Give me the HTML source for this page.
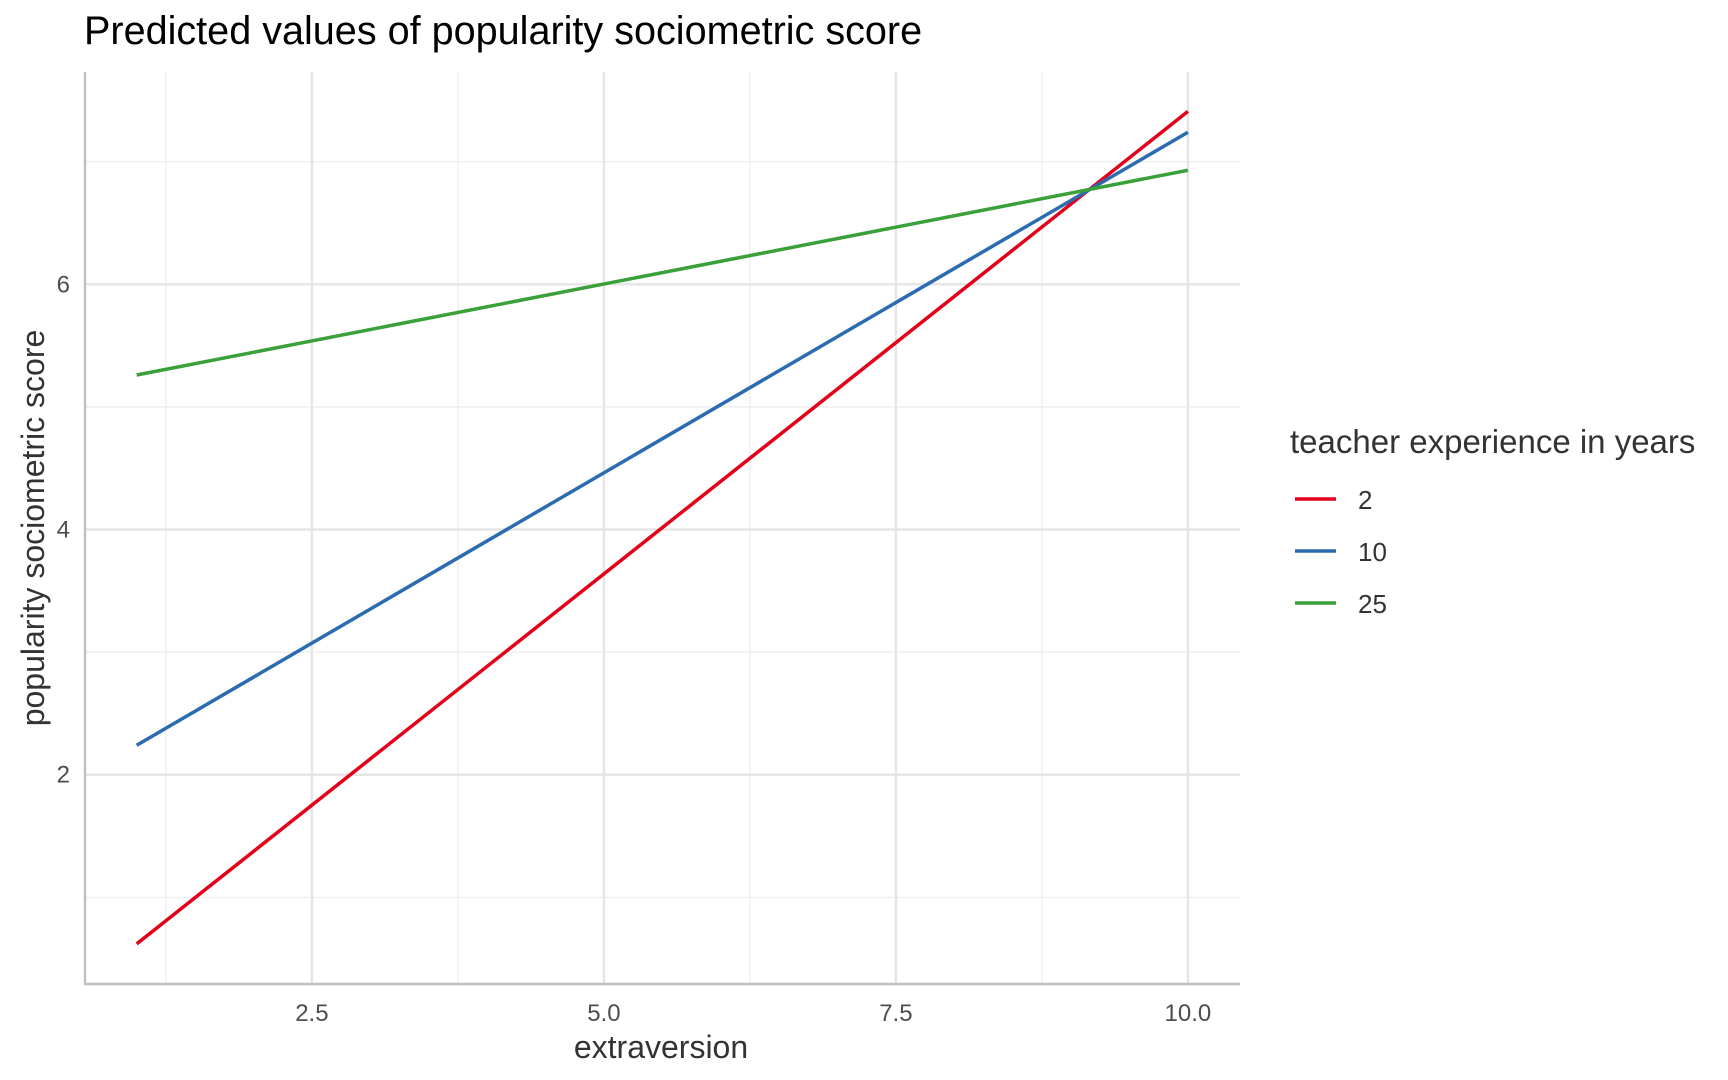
<!DOCTYPE html>
<html><head><meta charset="utf-8"><style>
html,body{margin:0;padding:0;background:#fff;}
svg{display:block;font-family:"Liberation Sans",Arial,sans-serif;}
</style></head><body>
<svg id="chart" width="1728" height="1080" viewBox="0 0 1728 1080">
<text x="84" y="44" font-size="39.6" fill="#000">Predicted values of popularity sociometric score</text>
<g id="grid"></g>
<g id="lines"></g>
<g id="axes"></g>
<text x="661" y="1058" font-size="32" fill="#333" text-anchor="middle">extraversion</text>
<text transform="translate(44,528) rotate(-90)" font-size="32" fill="#333" text-anchor="middle">popularity sociometric score</text>
<g id="legend">
<text x="1290" y="453" font-size="33" fill="#333">teacher experience in years</text>
</g>
</svg>
<script>
const seriesNames=["2","10","25"];
const seriesColors=["#e2001a","#2b6cb0","#3aa03a"];
const xValues=[1,10];
const yRed=[0.62,7.41];
const yBlue=[2.24,7.24];
const yGreen=[5.26,6.93];
const xTicks=[2.5,5.0,7.5,10.0];
const xTickLabels=["2.5","5.0","7.5","10.0"];
const xMinor=[1.25,3.75,6.25,8.75];
const yTicks=[2,4,6];
const yTickLabels=["2","4","6"];
const yMinor=[1,3,5,7];

const L=85,R=1240,T=72,B=984;
const xs=v=>311.9+(v-2.5)*116.8;
const ys=v=>284.3-(v-6)*122.6;
const NS="http://www.w3.org/2000/svg";
function mk(tag,attrs,parent){const e=document.createElementNS(NS,tag);for(const k in attrs)e.setAttribute(k,attrs[k]);parent.appendChild(e);return e;}
const grid=document.getElementById('grid'),lines=document.getElementById('lines'),axes=document.getElementById('axes'),legend=document.getElementById('legend');
xMinor.forEach(v=>{const e=mk('line',{x1:xs(v),x2:xs(v),y1:T,y2:B,stroke:'#ebebeb','stroke-width':1.2},grid);

});
yMinor.forEach(v=>{const e=mk('line',{x1:L,x2:R,y1:ys(v),y2:ys(v),stroke:'#ebebeb','stroke-width':1.2},grid);

});
xTicks.forEach((v,i)=>{const e=mk('line',{x1:xs(v),x2:xs(v),y1:T,y2:B,stroke:'#e5e5e5','stroke-width':2.4},grid);


const t=mk('text',{x:xs(v),y:1021,'font-size':24,fill:'#4d4d4d','text-anchor':'middle'},axes);t.textContent=xTickLabels[i];

});
yTicks.forEach((v,i)=>{const e=mk('line',{x1:L,x2:R,y1:ys(v),y2:ys(v),stroke:'#e5e5e5','stroke-width':2.4},grid);


const t=mk('text',{x:70,y:ys(v)+8,'font-size':24,fill:'#4d4d4d','text-anchor':'end'},axes);t.textContent=yTickLabels[i];

});
const ax1=mk('line',{x1:L,x2:L,y1:T,y2:B,stroke:'#c0c0c0','stroke-width':2.4},axes);


const ax2=mk('line',{x1:L-1,x2:R,y1:B,y2:B,stroke:'#c0c0c0','stroke-width':2.4},axes);


[yRed,yBlue,yGreen].forEach((ys_,k)=>{
const pts=xValues.map((x,i)=>xs(x)+','+ys(ys_[i])).join(' ');
const p=mk('polyline',{points:pts,fill:'none',stroke:seriesColors[k],'stroke-width':3.5},lines);


const y=499+k*52;
const kl=mk('line',{x1:1295,x2:1336,y1:y,y2:y,stroke:seriesColors[k],'stroke-width':3.5},legend);


const t=mk('text',{x:1358,y:y+10,'font-size':26,fill:'#333'},legend);t.textContent=seriesNames[k];


});
</script>
</body></html>
